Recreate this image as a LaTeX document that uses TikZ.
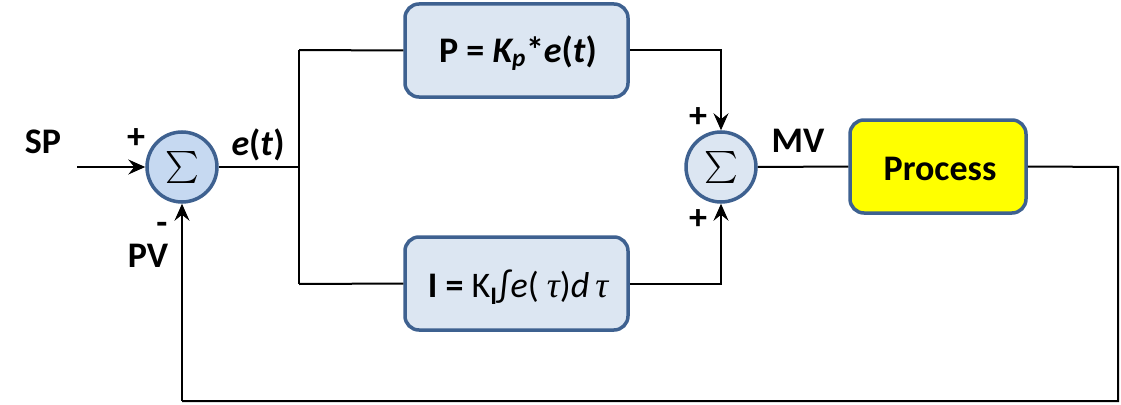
\documentclass[tikz,border=0pt]{standalone}
\usepackage{fontspec}
\setmainfont{Carlito}
\newfontfamily\serifit{Liberation Serif}
\usetikzlibrary{arrows.meta}
\definecolor{boxfill}{HTML}{DCE6F2}
\definecolor{sumfill}{HTML}{C6D9F1}
\definecolor{boxedge}{HTML}{3E6190}
\definecolor{procfill}{HTML}{FFFF00}
\tikzset{
  blk/.style={draw=boxedge, line width=3.5pt, rounded corners=14pt, fill=boxfill,
    minimum width=223pt, minimum height=93pt, inner sep=0pt},
  sumnode/.style={draw=boxedge, line width=3.5pt, circle, fill=boxfill,
    minimum size=70pt, inner sep=0pt},
  lbl/.style={font=\fontsize{36}{40}\selectfont\bfseries, inner sep=0pt},
  sig/.style={lbl},
  wire/.style={line width=2pt, draw=black},
  arr/.style={wire, -{Stealth[length=17pt,width=15pt,inset=6pt]}},
}
\newcommand{\sumsym}{\scalebox{3.2}{$\textstyle\sum$}}
\begin{document}
\begin{tikzpicture}[x=1pt,y=-1pt]
\useasboundingbox (0,0) rectangle (1121,404);
% blocks
\node[sumnode, fill=sumfill] (s1) at (182,167) {\sumsym};
\node[sumnode] (s2) at (721,167) {\sumsym};
\node[blk] (pb) at (516.5,50.5) {};
\node[blk] (ib) at (516.5,283.5) {};
\node[blk, fill=procfill, minimum width=176pt] (proc) at (938,166.5) {};
% texts
\node[lbl, anchor=base] (ptext) at (518,63) {P = \textit{K\textsubscript{p}}*\textit{e}(\textit{t})};
\node[lbl, anchor=base] (itext) at (518,297) {I = \mdseries K\textsubscript{\bfseries I}∫\textit{e}( \serifit\itshape τ\rmfamily\upshape)\textit{d}\,\serifit\itshape τ};
\node[lbl, anchor=base] (proctext) at (940,180) {Process};
\node[sig, anchor=base] (sp) at (43,153) {SP};
\node[sig] (plus1) at (136,139) {+};
\node[sig, anchor=base] (et) at (258,155) {\textit{e}(\textit{t})};
\node[sig, anchor=base] (minus1) at (162,234) {-};
\node[sig, anchor=base] (pv) at (148,267) {PV};
\node[sig] (plus2) at (698,118) {+};
\node[sig] (plus3) at (698,220) {+};
\node[sig, anchor=base] (mv) at (798,152) {MV};
% coordinates
\coordinate (spin) at (77,167);
\coordinate (br) at (299,167);
\coordinate (brt) at (299,50);
\coordinate (brb) at (299,284);
\coordinate (fb1) at (1118,167);
\coordinate (fb2) at (1118,401);
\coordinate (fb3) at (182,401);
% connectors
\draw[arr] (spin) -- (s1.west);
\draw[wire] (s1.east) -- (br);
\draw[wire] (brt) -- (brb);
\draw[wire] (brt) -- (pb.west);
\draw[wire] (brb) -- (ib.west);
\draw[arr] (pb.east) -| (s2.north);
\draw[arr] (ib.east) -| (s2.south);
\draw[wire] (s2.east) -- (proc.west);
\draw[wire] (proc.east) -- (fb1) -- (fb2) -- (fb3);
\draw[arr] (fb3) -- (s1.south);
\end{tikzpicture}
\end{document}
